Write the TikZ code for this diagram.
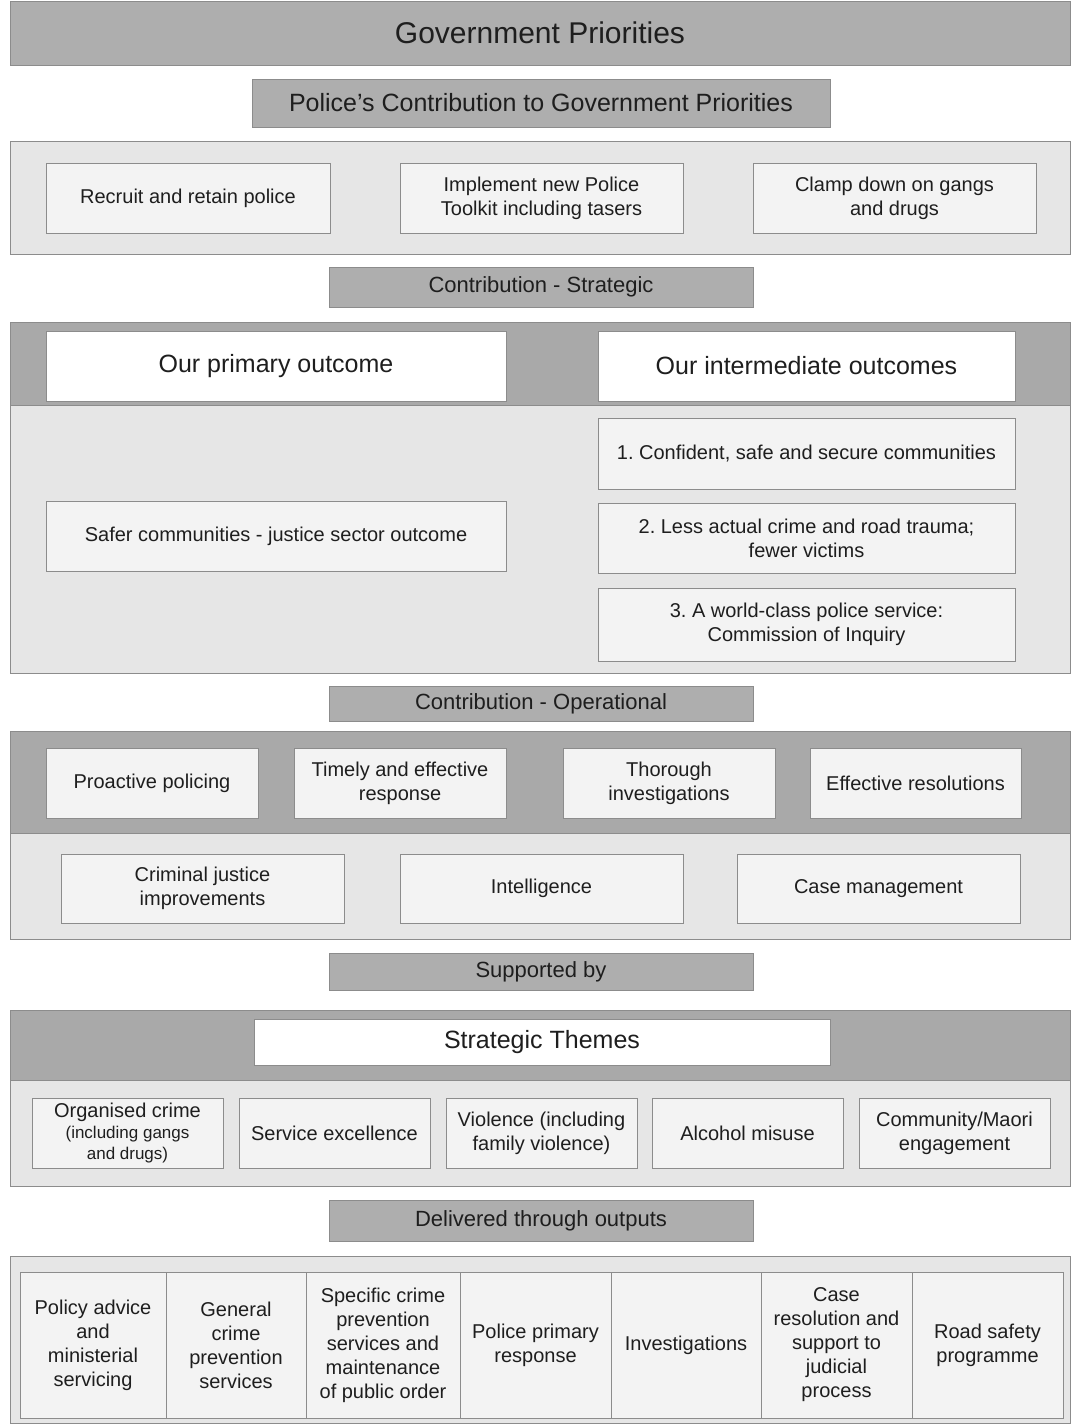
\documentclass[tikz,border=0pt]{standalone}
\usepackage{fontspec}
\setmainfont{Liberation Sans}
\definecolor{hdrgray}{HTML}{AEAEAE}
\definecolor{bandgray}{HTML}{A9A9A9}
\definecolor{panelgray}{HTML}{E6E6E6}
\definecolor{itemgray}{HTML}{F3F3F3}
\definecolor{edgegray}{HTML}{8C8C8C}
\definecolor{inkgray}{HTML}{1E1E1E}
\begin{document}
\frenchspacing
\begin{tikzpicture}[x=1pt,y=-1pt,
  every node/.style={inner sep=0pt,outer sep=0pt,align=center,text=inkgray},
  wh/.style 2 args={minimum width=#1,minimum height=#2},
  panel/.style={draw=edgegray,line width=1pt,fill=panelgray},
  band/.style={draw=edgegray,line width=1pt,fill=bandgray},
  hdr/.style={draw=edgegray,line width=1pt,fill=hdrgray,font=\fontsize{22}{26}\selectfont},
  item/.style={draw=edgegray,line width=0.9pt,fill=itemgray,font=\fontsize{20}{24}\selectfont},
  title/.style={draw=edgegray,line width=1pt,fill=white,font=\fontsize{25}{29}\selectfont}]
\useasboundingbox (0,0) rectangle (1072,1425);
\fill[white] (0,0) rectangle (1072,1425);
\node[hdr,wh={1060}{64},font=\fontsize{30}{34}\selectfont] (gov) at (540,33) {Government Priorities};
\node[hdr,wh={578}{48},font=\fontsize{25}{29}\selectfont] (polcon) at (541,103) {Police's Contribution to Government Priorities};
\node[panel,wh={1060}{113}] (prio) at (540,197.5) {};
\node[item,wh={284}{70}] (recruit) at (188,198) {Recruit and retain police};
\node[item,wh={283}{70}] (toolkit) at (541.5,198) {Implement new Police\\Toolkit including tasers};
\node[item,wh={283}{70}] (clamp) at (894.5,198) {Clamp down on gangs\\and drugs};
\node[hdr,wh={424}{40}] (strat) at (541,287) {Contribution - Strategic};
\node[panel,wh={1060}{351}] (outc) at (540,497.5) {};
\node[band,wh={1060}{83}] (outcband) at (540,363.5) {};
\node[title,wh={460}{70}] (primary) at (276,366) {Our primary outcome};
\node[title,wh={417}{70}] (inter) at (806.5,366) {Our intermediate outcomes};
\node[item,wh={460}{70}] (safer) at (276,536) {Safer communities - justice sector outcome};
\node[item,wh={417}{71}] (inone) at (806.5,453.5) {1. Confident, safe and secure communities};
\node[item,wh={417}{70}] (intwo) at (806.5,538) {2. Less actual crime and road trauma;\\fewer victims};
\node[item,wh={417}{73}] (inthree) at (806.5,624.5) {3. A world-class police service:\\Commission of Inquiry};
\node[hdr,wh={424}{35}] (oper) at (541,703.5) {Contribution - Operational};
\node[panel,wh={1060}{208}] (opp) at (540,835) {};
\node[band,wh={1060}{102}] (oppband) at (540,782) {};
\node[item,wh={212}{70}] (proact) at (152,783) {Proactive policing};
\node[item,wh={212}{70}] (timely) at (400,783) {Timely and effective\\response};
\node[item,wh={212}{70}] (thorough) at (669,783) {Thorough\\investigations};
\node[item,wh={211}{70}] (effres) at (915.5,783) {Effective resolutions};
\node[item,wh={283}{69}] (crimjus) at (202.5,888.5) {Criminal justice\\improvements};
\node[item,wh={283}{69}] (intel) at (541.5,888.5) {Intelligence};
\node[item,wh={283}{69}] (casemgmt) at (878.5,888.5) {Case management};
\node[hdr,wh={424}{37}] (supp) at (541,971.5) {Supported by};
\node[panel,wh={1060}{176}] (themep) at (540,1098) {};
\node[band,wh={1060}{70}] (themeband) at (540,1045) {};
\node[title,wh={576}{46}] (themes) at (542,1042) {Strategic Themes};
\node[item,wh={191}{70}] (orgcrime) at (127.5,1133) {Organised crime\\[-3pt]{\fontsize{17}{20}\selectfont(including gangs}\\[-3pt]{\fontsize{17}{20}\selectfont and drugs)}};
\node[item,wh={191}{70}] (servex) at (334.5,1133) {Service excellence};
\node[item,wh={191}{70}] (violence) at (541.5,1133) {Violence (including\\family violence)};
\node[item,wh={191}{70}] (alcohol) at (747.5,1133) {Alcohol misuse};
\node[item,wh={191}{70}] (commaori) at (954.5,1133) {Community/Maori\\engagement};
\node[hdr,wh={424}{41}] (deliv) at (541,1220.5) {Delivered through outputs};
\node[panel,wh={1060}{167}] (outp) at (540,1339.5) {};
\node[item,wh={146}{146}] (policy) at (93,1345) {Policy advice\\and\\ministerial\\servicing};
\node[item,wh={140}{146}] (genprev) at (236,1345) {General\\crime\\prevention\\services};
\node[item,wh={154}{146}] (specprev) at (383,1345) {Specific crime\\prevention\\services and\\maintenance\\of public order};
\node[item,wh={151}{146}] (primresp) at (535.5,1345) {Police primary\\response};
\node[item,wh={150}{146}] (invest) at (686,1345) {Investigations};
\node[item,wh={151}{146}] (caseres) at (836.5,1345) {Case\\resolution and\\support to\\judicial\\process};
\node[item,wh={151}{146}] (road) at (987.5,1345) {Road safety\\programme};
\end{tikzpicture}
\end{document}
